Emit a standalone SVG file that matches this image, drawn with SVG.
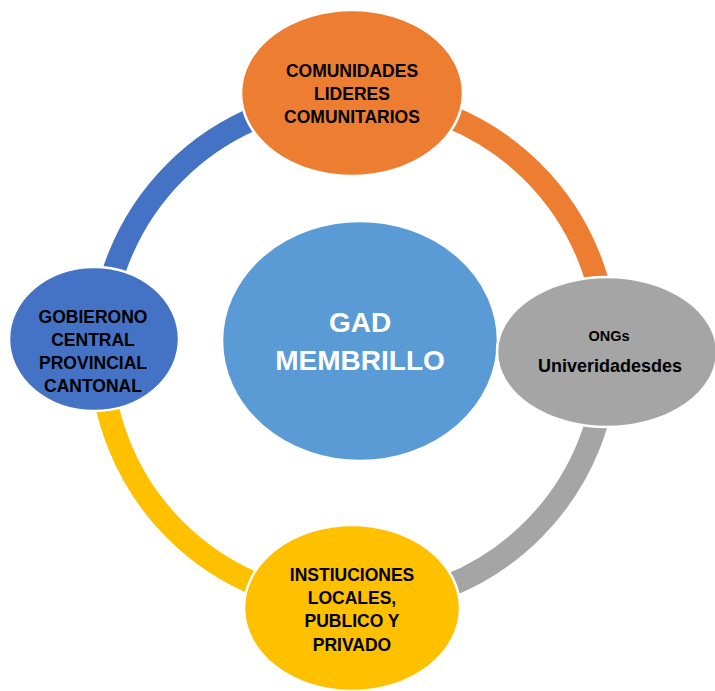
<svg xmlns="http://www.w3.org/2000/svg" width="715" height="691" viewBox="0 0 715 691">
<style>
.ring{fill:none;stroke-width:23}
.node{stroke:#fff;stroke-width:2.5}
.t{font-family:"Liberation Sans",Arial,sans-serif;font-weight:bold;font-size:17.5px;fill:#000;text-anchor:middle}
.c{font-family:"Liberation Sans",Arial,sans-serif;font-weight:bold;font-size:28px;fill:#fff;text-anchor:middle}
</style>
<rect width="715" height="691" fill="#fff"/>
<g id="connectors">
<path class="ring" stroke="#ED7D31" d="M354 98 A253 253 0 0 1 607 351"/>
<path class="ring" stroke="#A5A5A5" d="M607 351 A253 253 0 0 1 354 604"/>
<path class="ring" stroke="#FFC000" d="M354 604 A253 253 0 0 1 101 351"/>
<path class="ring" stroke="#4472C4" d="M101 351 A253 253 0 0 1 354 98"/>
</g>
<g id="center">
<ellipse class="node" cx="360" cy="341" rx="138" ry="120" fill="#5B9BD5"/>
<text class="c" x="360" y="332">GAD</text>
<text class="c" x="360" y="370">MEMBRILLO</text>
</g>
<g id="top">
<ellipse class="node" cx="352" cy="93" rx="111" ry="83" fill="#ED7D31"/>
<text class="t" x="352" y="77">COMUNIDADES</text>
<text class="t" x="352" y="100">LIDERES</text>
<text class="t" x="352" y="123">COMUNITARIOS</text>
</g>
<g id="right">
<ellipse class="node" cx="607" cy="352" rx="110" ry="75" fill="#A5A5A5"/>
<text class="t" x="609" y="341" style="font-size:14.5px">ONGs</text>
<text class="t" x="610" y="372" style="font-size:18px">Univeridadesdes</text>
</g>
<g id="bottom">
<ellipse class="node" cx="352" cy="608" rx="108" ry="83" fill="#FFC000"/>
<text class="t" x="352" y="581">INSTIUCIONES</text>
<text class="t" x="352" y="604">LOCALES,</text>
<text class="t" x="352" y="627">PUBLICO Y</text>
<text class="t" x="352" y="651">PRIVADO</text>
</g>
<g id="left">
<ellipse class="node" cx="94" cy="339" rx="85" ry="72" fill="#4472C4"/>
<text class="t" x="93" y="323">GOBIERONO</text>
<text class="t" x="93" y="346">CENTRAL</text>
<text class="t" x="93" y="369">PROVINCIAL</text>
<text class="t" x="93" y="392">CANTONAL</text>
</g>
</svg>
